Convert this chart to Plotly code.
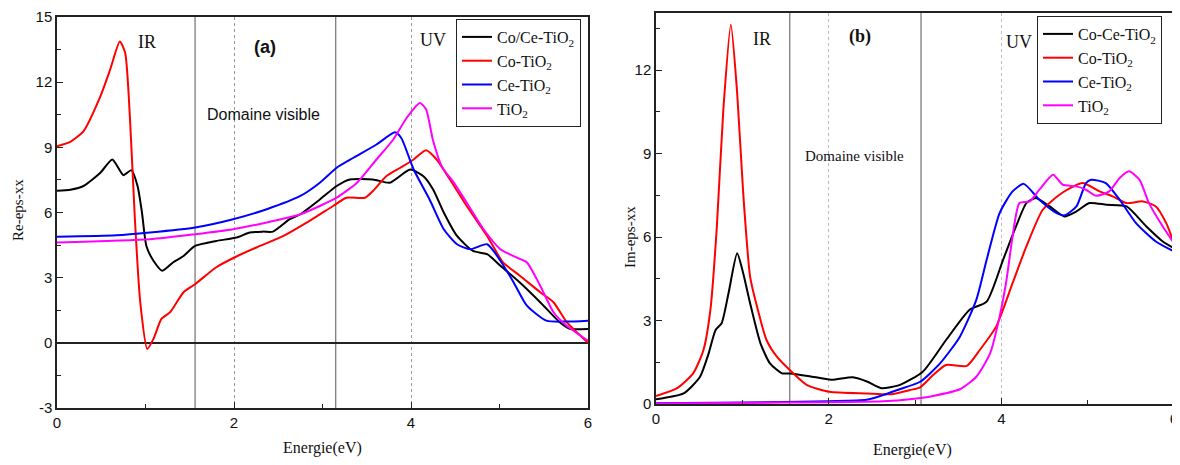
import plotly.graph_objects as go

# ---------------- Panel (a): Re-eps-xx ----------------
re_black_E = [0, 0.15, 0.30, 0.49, 0.625, 0.75, 0.84, 0.91, 0.96, 1.01, 1.09, 1.19, 1.31, 1.43, 1.56, 1.80, 2.03, 2.18, 2.33, 2.44, 2.63, 2.75, 2.97, 3.16, 3.31, 3.57, 3.76, 3.99, 4.14, 4.25, 4.37, 4.52, 4.70, 4.86, 5.01, 5.23, 5.46, 5.68, 5.80, 6.0]
re_black_V = [7.0, 7.05, 7.22, 7.83, 8.44, 7.72, 7.95, 7.22, 6.0, 4.46, 3.78, 3.32, 3.7, 4.0, 4.46, 4.69, 4.85, 5.08, 5.12, 5.12, 5.69, 5.92, 6.6, 7.22, 7.52, 7.52, 7.37, 7.98, 7.67, 7.06, 6.0, 4.92, 4.23, 4.08, 3.55, 2.78, 1.87, 0.95, 0.64, 0.64]

re_red_E = [0, 0.15, 0.30, 0.49, 0.60, 0.71, 0.77, 0.825, 0.88, 0.94, 1.02, 1.09, 1.18, 1.28, 1.43, 1.56, 1.80, 2.01, 2.26, 2.56, 2.82, 3.12, 3.27, 3.48, 3.57, 3.72, 3.88, 4.03, 4.17, 4.29, 4.44, 4.63, 4.86, 5.04, 5.23, 5.46, 5.61, 5.76, 6.0]
re_red_V = [9.05, 9.25, 9.75, 11.35, 12.57, 13.87, 13.35, 10.3, 5.7, 1.9, -0.28, 0.18, 1.1, 1.42, 2.33, 2.7, 3.48, 3.94, 4.4, 4.92, 5.53, 6.3, 6.68, 6.68, 6.99, 7.67, 8.06, 8.44, 8.87, 8.44, 7.52, 6.3, 4.92, 3.7, 3.09, 2.33, 1.87, 0.95, 0.0]

re_blue_E = [0, 0.67, 1.05, 1.56, 1.99, 2.37, 2.75, 2.97, 3.16, 3.35, 3.61, 3.82, 3.89, 4.03, 4.21, 4.37, 4.52, 4.67, 4.86, 5.01, 5.16, 5.31, 5.53, 5.76, 6.0]
re_blue_V = [4.88, 4.95, 5.08, 5.31, 5.69, 6.15, 6.76, 7.37, 8.06, 8.52, 9.13, 9.69, 9.43, 7.98, 6.6, 5.23, 4.54, 4.31, 4.54, 3.78, 2.78, 1.71, 1.02, 0.98, 1.02]

re_mag_E = [0, 1.05, 1.56, 1.99, 2.37, 2.75, 2.97, 3.16, 3.39, 3.61, 3.80, 3.95, 4.10, 4.17, 4.25, 4.35, 4.48, 4.63, 4.82, 5.01, 5.19, 5.31, 5.46, 5.61, 5.76, 6.0]
re_mag_V = [4.62, 4.77, 5.0, 5.23, 5.54, 5.92, 6.3, 6.68, 7.37, 8.44, 9.36, 10.35, 11.04, 10.75, 9.3, 8.1, 7.4, 6.45, 5.23, 4.31, 3.93, 3.7, 2.63, 1.41, 0.79, 0.1]

# ---------------- Panel (b): Im-eps-xx ----------------
im_black_E = [0, 0.32, 0.51, 0.61, 0.69, 0.76, 0.84, 0.94, 1.01, 1.09, 1.21, 1.32, 1.46, 1.55, 1.78, 2.03, 2.28, 2.45, 2.61, 2.82, 3.09, 3.36, 3.63, 3.83, 4.02, 4.17, 4.29, 4.40, 4.56, 4.73, 4.87, 5.02, 5.22, 5.45, 5.68, 5.87, 6.0]
im_black_V = [0.17, 0.38, 0.98, 1.82, 2.66, 2.9, 3.98, 5.42, 4.7, 3.62, 2.18, 1.46, 1.1, 1.1, 1.0, 0.87, 0.96, 0.8, 0.57, 0.68, 1.16, 2.3, 3.38, 3.68, 5.18, 6.38, 7.22, 7.4, 7.1, 6.74, 6.92, 7.22, 7.16, 7.1, 6.38, 5.84, 5.6]

im_red_E = [0, 0.24, 0.43, 0.55, 0.63, 0.705, 0.78, 0.867, 0.94, 1.01, 1.09, 1.17, 1.28, 1.40, 1.55, 1.75, 2.01, 2.44, 2.72, 2.94, 3.06, 3.21, 3.36, 3.60, 3.75, 3.94, 4.13, 4.29, 4.48, 4.71, 4.94, 5.14, 5.29, 5.45, 5.64, 5.79, 5.91, 6.0]
im_red_V = [0.29, 0.56, 1.1, 1.94, 3.38, 6.38, 10.58, 13.63, 11.18, 7.58, 4.58, 3.5, 2.3, 1.7, 1.22, 0.68, 0.44, 0.38, 0.35, 0.5, 0.6, 1.04, 1.4, 1.37, 1.94, 2.78, 4.34, 5.66, 6.98, 7.6, 7.94, 7.64, 7.46, 7.22, 7.28, 7.1, 6.5, 5.78]

im_blue_E = [0, 1.0, 2.0, 2.44, 2.63, 2.82, 3.06, 3.29, 3.52, 3.71, 3.83, 3.98, 4.13, 4.26, 4.44, 4.64, 4.73, 4.87, 4.98, 5.04, 5.21, 5.37, 5.56, 5.79, 6.0]
im_blue_V = [0.03, 0.05, 0.1, 0.15, 0.32, 0.53, 0.8, 1.46, 2.42, 3.74, 5.18, 6.86, 7.64, 7.91, 7.34, 6.86, 6.78, 7.1, 7.94, 8.06, 7.94, 7.34, 6.5, 5.84, 5.48]

im_mag_E = [0, 1.5, 2.63, 2.94, 3.21, 3.52, 3.71, 3.87, 3.98, 4.06, 4.13, 4.21, 4.33, 4.44, 4.60, 4.71, 4.87, 4.98, 5.10, 5.25, 5.37, 5.48, 5.60, 5.71, 5.87, 6.0]
im_mag_V = [0.02, 0.05, 0.1, 0.17, 0.29, 0.53, 0.98, 1.82, 3.14, 4.46, 6.02, 7.22, 7.28, 7.7, 8.24, 7.88, 7.82, 7.7, 7.48, 7.64, 8.12, 8.36, 8.06, 7.22, 6.38, 5.78]

names_a = ["Co/Ce-TiO<sub>2</sub>", "Co-TiO<sub>2</sub>", "Ce-TiO<sub>2</sub>", "TiO<sub>2</sub>"]
names_b = ["Co-Ce-TiO<sub>2</sub>", "Co-TiO<sub>2</sub>", "Ce-TiO<sub>2</sub>", "TiO<sub>2</sub>"]
colors = ["#000000", "#ff0000", "#0000ff", "#ff00ff"]

x_ticks = [0, 2, 4, 6]
x_labels = ["0", "2", "4", "6"]
re_ticks = [-3, 0, 3, 6, 9, 12, 15]
re_labels = ["-3", "0", "3", "6", "9", "12", "15"]
im_ticks = [0, 3, 6, 9, 12]
im_labels = ["0", "3", "6", "9", "12"]

SERIF = "Liberation Serif"
SANS = "Liberation Sans"

fig = go.Figure()

data_a = [(re_black_E, re_black_V), (re_red_E, re_red_V), (re_blue_E, re_blue_V), (re_mag_E, re_mag_V)]
data_b = [(im_black_E, im_black_V), (im_red_E, im_red_V), (im_blue_E, im_blue_V), (im_mag_E, im_mag_V)]

for (ex, vy), nm, c in zip(data_a, names_a, colors):
    fig.add_trace(go.Scatter(x=ex, y=vy, name=nm, mode="lines",
                             line=dict(color=c, width=2, shape="spline", smoothing=0.6),
                             xaxis="x", yaxis="y", legend="legend"))
for (ex, vy), nm, c in zip(data_b, names_b, colors):
    fig.add_trace(go.Scatter(x=ex, y=vy, name=nm, mode="lines",
                             line=dict(color=c, width=2, shape="spline", smoothing=0.6),
                             xaxis="x2", yaxis="y2", legend="legend2"))

# page body has an 8px margin: lay out in screen pixels, shifted by it
OFF = 8
W, H = 1180 - OFF, 465 - OFF
def px(v): return (v - OFF) / W
def py(v): return 1 - (v - OFF) / H

axis_common = dict(showline=True, mirror=True, linecolor="#222", linewidth=1.5,
                   ticks="inside", ticklen=6, tickwidth=1.2, tickcolor="#222",
                   automargin=False,
                   tickfont=dict(family=SANS, size=15, color="#111"))

fig.update_layout(
    template="none",
    width=W, height=H, margin=dict(l=0, r=0, t=0, b=0, pad=0),
    paper_bgcolor="white", plot_bgcolor="white",
    xaxis=dict(domain=[px(57), px(588)], range=[0, 6], tickvals=x_ticks, ticktext=x_labels,
               showgrid=True, gridcolor="#999", griddash="dot", gridwidth=1, zeroline=False,
               minor=dict(ticks="inside", dtick=1, ticklen=4, tickcolor="#222", showgrid=False),
               anchor="y", **axis_common),
    yaxis=dict(domain=[py(408), py(17)], range=[-3, 15], tickvals=re_ticks, ticktext=re_labels,
               showgrid=False, zeroline=True, zerolinecolor="#222", zerolinewidth=1.5,
               minor=dict(ticks="inside", dtick=1.5, tick0=0, ticklen=4, tickcolor="#222", showgrid=False),
               anchor="x", **axis_common),
    xaxis2=dict(domain=[px(656), px(1174)], range=[0, 6], tickvals=x_ticks, ticktext=x_labels,
                showgrid=True, gridcolor="#bbb", griddash="dot", gridwidth=1, zeroline=False,
                minor=dict(ticks="inside", dtick=1, ticklen=4, tickcolor="#222", showgrid=False),
                anchor="y2", **axis_common),
    yaxis2=dict(domain=[py(404), py(13)], range=[0, 14.05], tickvals=im_ticks, ticktext=im_labels,
                showgrid=False, zeroline=False,
                minor=dict(ticks="inside", dtick=1.5, tick0=0, ticklen=4, tickcolor="#222", showgrid=False),
                anchor="x2", **axis_common),
    legend=dict(x=px(456), y=py(19), xanchor="left", yanchor="top",
                bgcolor="white", bordercolor="#222", borderwidth=1,
                font=dict(family=SERIF, size=16, color="#111"), tracegroupgap=0,
                itemwidth=30),
    legend2=dict(x=px(1037), y=py(16), xanchor="left", yanchor="top",
                 bgcolor="white", bordercolor="#222", borderwidth=1,
                 font=dict(family=SERIF, size=16, color="#111"), tracegroupgap=0,
                 itemwidth=30),
    showlegend=True,
)

# Region separator lines
for xv, xr, yr in [(1.56, "x", "y domain"), (3.15, "x", "y domain"),
                   (1.55, "x2", "y2 domain"), (3.07, "x2", "y2 domain")]:
    fig.add_shape(type="line", xref=xr, yref=yr, x0=xv, x1=xv, y0=0, y1=1,
                  line=dict(color="#555", width=1), layer="below")

ann = [
    # panel a
    dict(text="IR", x=1.02, y=13.85, xref="x", yref="y", font=dict(family=SERIF, size=18, color="#111")),
    dict(text="<b>(a)</b>", x=2.35, y=13.6, xref="x", yref="y", font=dict(family=SANS, size=18, color="#111")),
    dict(text="Domaine visible", x=2.33, y=10.5, xref="x", yref="y", font=dict(family=SANS, size=16, color="#111")),
    dict(text="UV", x=4.25, y=13.95, xref="x", yref="y", font=dict(family=SERIF, size=18, color="#111")),
    # panel b
    dict(text="IR", x=1.23, y=13.1, xref="x2", yref="y2", font=dict(family=SERIF, size=18, color="#111")),
    dict(text="<b>(b)</b>", x=2.36, y=13.2, xref="x2", yref="y2", font=dict(family=SERIF, size=18, color="#111")),
    dict(text="Domaine visible", x=2.30, y=8.9, xref="x2", yref="y2", font=dict(family=SERIF, size=15, color="#111")),
    dict(text="UV", x=4.21, y=13.0, xref="x2", yref="y2", font=dict(family=SERIF, size=18, color="#111")),
    # axis titles
    dict(text="Re-eps-xx", x=px(18), y=py(210), xref="paper", yref="paper", textangle=-90,
         font=dict(family=SERIF, size=15, color="#111")),
    dict(text="Energie(eV)", x=px(322), y=py(448), xref="paper", yref="paper",
         font=dict(family=SERIF, size=16, color="#111")),
    dict(text="Im-eps-xx", x=px(630), y=py(237), xref="paper", yref="paper", textangle=-90,
         font=dict(family=SERIF, size=15, color="#111")),
    dict(text="Energie(eV)", x=px(912), y=py(450), xref="paper", yref="paper",
         font=dict(family=SERIF, size=16, color="#111")),
]
for a in ann:
    fig.add_annotation(showarrow=False, xanchor="center", yanchor="middle", **a)

fig.write_html("out.html")
